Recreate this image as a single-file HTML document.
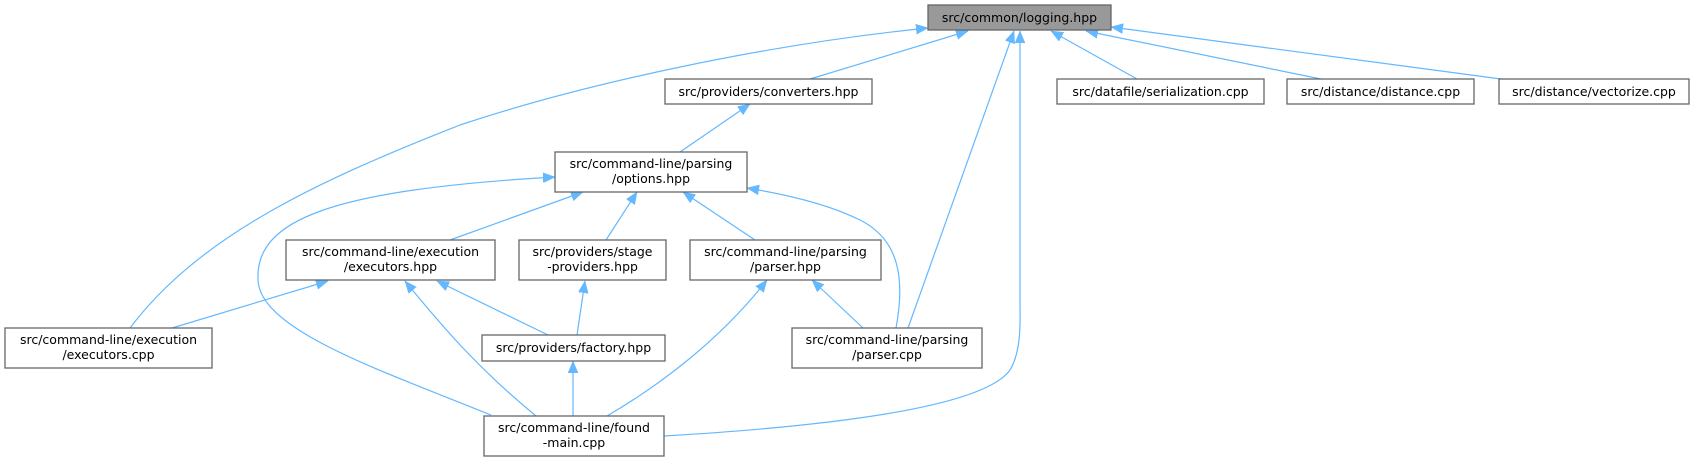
<!DOCTYPE html>
<html><head><meta charset="utf-8"><style>
html,body{margin:0;padding:0;background:#fff;}
svg{display:block;}
text{font-family:"DejaVu Sans","Liberation Sans",sans-serif;font-size:12.5px;fill:#000;text-anchor:middle;}
.n{fill:#fff;stroke:#666;stroke-width:1.3;}
.e{fill:none;stroke:#63b8ff;stroke-width:1.2;marker-end:url(#ah);}
</style></head><body>
<svg width="1695" height="461" viewBox="0 0 1695 461" xmlns="http://www.w3.org/2000/svg">
<defs>
<marker id="ah" markerUnits="userSpaceOnUse" markerWidth="14" markerHeight="12" refX="12" refY="5" orient="auto">
<path d="M0,0 L12,5 L0,10 Z" fill="#63b8ff" stroke="#63b8ff" stroke-width="0.5"/>
</marker>
</defs>
<path class="e" d="M130,328 C200,235 320,180 460,125 C580,85 760,45 928,28"/>
<path class="e" d="M810,79 L968,31"/>
<path class="e" d="M680,152 L750,104"/>
<path class="e" d="M908,328 L1014,31"/>
<path class="e" d="M664,436 C850,425 985,405 1010,370 C1022,350 1020,320 1020,300 L1020,31"/>
<path class="e" d="M1137,79 L1051,31"/>
<path class="e" d="M1321,79 L1086,31"/>
<path class="e" d="M1501,79 L1111,27"/>
<path class="e" d="M450,240 L583,192"/>
<path class="e" d="M606,240 L637,192"/>
<path class="e" d="M755,240 L683,192"/>
<path class="e" d="M896,328 C905,280 900,240 860,220 C830,205 790,195 747,188"/>
<path class="e" d="M491,415 C380,370 260,330 258,280 C255,220 330,190 555,177"/>
<path class="e" d="M172,328 L328,281"/>
<path class="e" d="M536,416 C480,370 445,330 405,281"/>
<path class="e" d="M548,335 L437,281"/>
<path class="e" d="M577,335 L585,281"/>
<path class="e" d="M573,416 L573,361"/>
<path class="e" d="M607,416 C660,385 720,340 767,280"/>
<path class="e" d="M863,328 L812,280"/>
<rect x="928" y="5" width="183" height="25" fill="#999" stroke="#666" stroke-width="1.3"/>
<text x="1019.5" y="22">src/common/logging.hpp</text>
<rect class="n" x="665" y="79" width="207" height="25"/>
<text x="768.5" y="96">src/providers/converters.hpp</text>
<rect class="n" x="1057" y="79" width="207" height="25"/>
<text x="1160.5" y="96">src/datafile/serialization.cpp</text>
<rect class="n" x="1287" y="79" width="187" height="25"/>
<text x="1380.5" y="96">src/distance/distance.cpp</text>
<rect class="n" x="1499" y="79" width="190" height="25"/>
<text x="1594" y="96">src/distance/vectorize.cpp</text>
<rect class="n" x="555" y="152" width="192" height="40"/>
<text x="651" y="168">src/command-line/parsing</text>
<text x="651" y="183">/options.hpp</text>
<rect class="n" x="286" y="240" width="209" height="40"/>
<text x="390.5" y="256">src/command-line/execution</text>
<text x="390.5" y="271">/executors.hpp</text>
<rect class="n" x="519" y="240" width="147" height="40"/>
<text x="592.5" y="256">src/providers/stage</text>
<text x="592.5" y="271">-providers.hpp</text>
<rect class="n" x="690" y="240" width="191" height="40"/>
<text x="785.5" y="256">src/command-line/parsing</text>
<text x="785.5" y="271">/parser.hpp</text>
<rect class="n" x="5" y="328" width="207" height="40"/>
<text x="108.5" y="344">src/command-line/execution</text>
<text x="108.5" y="359">/executors.cpp</text>
<rect class="n" x="482" y="335" width="183" height="26"/>
<text x="573.5" y="352">src/providers/factory.hpp</text>
<rect class="n" x="792" y="328" width="190" height="40"/>
<text x="887" y="344">src/command-line/parsing</text>
<text x="887" y="359">/parser.cpp</text>
<rect class="n" x="484" y="416" width="180" height="40"/>
<text x="574" y="432">src/command-line/found</text>
<text x="574" y="447">-main.cpp</text>
</svg>
</body></html>
